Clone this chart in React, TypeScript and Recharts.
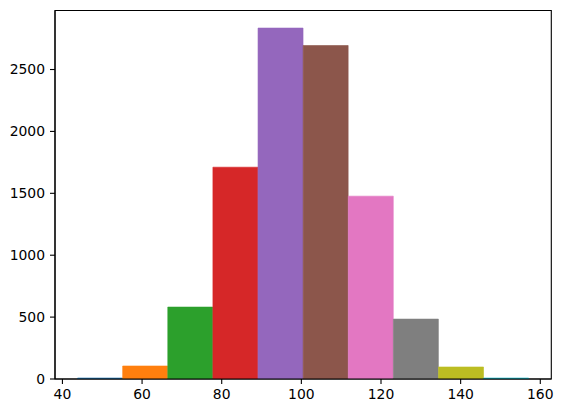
import { ComposedChart, Bar, Cell, XAxis, YAxis, ReferenceArea } from "recharts";

// histogram: 10 equal bins
const binStart = 43.8;
const binWidth = 11.33;
const counts = [8, 105, 581, 1711, 2835, 2694, 1477, 484, 97, 8];

const xTicks = [40, 60, 80, 100, 120, 140, 160];
const yTicks = [0, 500, 1000, 1500, 2000, 2500];

const COLORS = [
  "#1f77b4",
  "#ff7f0e",
  "#2ca02c",
  "#d62728",
  "#9467bd",
  "#8c564b",
  "#e377c2",
  "#7f7f7f",
  "#bcbd22",
  "#17becf",
];

const data = counts.map((count, i) => ({
  center: binStart + binWidth * (i + 0.5),
  count,
}));

const binEnd = binStart + binWidth * counts.length;
const pad = (binEnd - binStart) * 0.05;
const xMin = binStart - pad;
const xMax = binEnd + pad;
const yMax = Math.max(...counts) * 1.05;

const tickStyle = {
  fill: "#000",
  fontSize: 13.9,
  fontFamily: "'DejaVu Sans', sans-serif",
};

export default function App() {
  return (
    <div style={{ position: "absolute", left: 0, top: 0, background: "#fff" }}>
      <ComposedChart
        width={563}
        height={413}
        data={data}
        barCategoryGap={0}
        barGap={0}
        margin={{ top: 10.5, right: 11.7, bottom: 0, left: 0 }}
      >
        <XAxis
          dataKey="center"
          type="number"
          domain={[xMin, xMax]}
          allowDataOverflow
          ticks={xTicks}
          interval={0}
          height={34}
          tickSize={5}
          tickMargin={5}
          tick={tickStyle}
          axisLine={{ stroke: "#000", strokeWidth: 1.1 }}
          tickLine={{ stroke: "#000", strokeWidth: 1.1 }}
        />
        <YAxis
          type="number"
          domain={[0, yMax]}
          allowDataOverflow
          ticks={yTicks}
          interval={0}
          width={55}
          tickSize={5}
          tickMargin={5}
          tick={tickStyle}
          axisLine={{ stroke: "#000", strokeWidth: 1.1 }}
          tickLine={{ stroke: "#000", strokeWidth: 1.1 }}
        />
        <Bar dataKey="count" isAnimationActive={false}>
          {data.map((entry, index) => (
            <Cell
              key={`bin-${index}`}
              fill={COLORS[index % COLORS.length]}
              stroke={COLORS[index % COLORS.length]}
              strokeWidth={0.6}
            />
          ))}
        </Bar>
        {/* frame: matplotlib draws all four spines */}
        <ReferenceArea
          x1={xMin}
          x2={xMax}
          y1={0}
          y2={yMax}
          fill="none"
          fillOpacity={0}
          stroke="#000"
          strokeWidth={1.1}
          strokeOpacity={1}
          ifOverflow="visible"
        />
      </ComposedChart>
    </div>
  );
}
